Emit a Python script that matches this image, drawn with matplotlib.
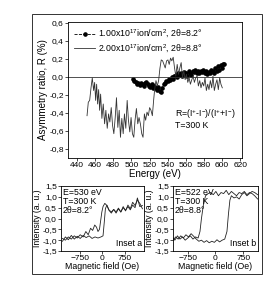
import numpy as np
import matplotlib.pyplot as plt
from matplotlib.patches import Rectangle
from matplotlib.ticker import FuncFormatter, MultipleLocator

plt.rcParams['font.family'] = ['Liberation Sans', 'DejaVu Sans']
plt.rcParams['mathtext.fontset'] = 'custom'
plt.rcParams['mathtext.rm'] = 'Liberation Sans'
plt.rcParams['mathtext.it'] = 'Liberation Sans:italic'
plt.rcParams['font.size'] = 6

# main panel: asymmetry ratio vs photon energy
e_dose1 = [501.8, 503.3, 504.8, 506.2, 507.7, 509.2, 510.6, 512.1, 513.5, 515.0,
           516.5, 517.9, 519.4, 520.9, 522.3, 523.8, 525.3, 526.7, 528.2, 529.6,
           531.1, 532.6, 534.0, 535.5, 537.0, 538.4, 539.9, 541.4, 542.8, 544.3,
           545.7, 547.2, 548.7, 550.1, 551.6, 553.1, 554.5, 556.0, 557.5, 558.9,
           560.4, 561.8, 563.3, 564.8, 566.2, 567.7, 569.2, 570.6, 572.1, 573.6,
           575.0, 576.5, 578.0, 579.4, 580.9, 582.3, 583.8, 585.3, 586.7, 588.2,
           589.7, 591.1, 592.6, 594.1, 595.5, 597.0, 598.4, 599.9, 601.4, 602.5]
r_dose1 = [-0.02, -0.04, -0.06, -0.08, -0.07, -0.09, -0.07, -0.08, -0.10, -0.07,
           -0.06, -0.08, -0.10, -0.11, -0.08, -0.12, -0.10, -0.12, -0.14, -0.11,
           -0.15, -0.17, -0.12, -0.08, -0.07, -0.04, -0.04, -0.02, -0.03, 0.00,
           -0.02, 0.01, 0.02, 0.00, 0.04, 0.02, 0.05, 0.01, 0.06, 0.03,
           0.05, 0.01, 0.07, 0.04, 0.02, 0.07, 0.06, 0.08, 0.05, 0.07,
           0.04, 0.07, 0.06, 0.08, 0.05, 0.07, 0.03, 0.06, 0.05, 0.08,
           0.07, 0.04, 0.10, 0.07, 0.12, 0.08, 0.13, 0.10, 0.14, 0.15]

e_dose2 = [451.0, 452.4, 453.9, 455.4, 456.8, 458.3, 459.4, 460.5, 461.6, 462.7,
           463.8, 464.9, 466.0, 467.4, 468.9, 470.4, 471.8, 473.3, 474.8, 476.2,
           477.7, 479.2, 480.6, 482.1, 483.5, 485.0, 486.5, 487.9, 489.4, 490.9,
           492.3, 493.8, 495.3, 496.7, 498.2, 499.6, 501.1, 502.6, 504.0, 505.5,
           507.0, 508.4, 509.9, 511.4, 512.8, 514.3, 515.7, 517.2, 518.7, 520.1,
           521.6, 523.1, 524.5, 525.6, 527.1, 528.5, 530.0, 531.5, 532.9, 534.4,
           535.9, 537.3, 538.8, 540.3, 541.7, 543.2, 544.6, 546.1, 547.6, 549.0,
           550.5, 552.0, 553.4, 554.9, 556.4, 557.8, 559.3, 560.7, 562.2, 563.7,
           565.1, 566.6, 568.1, 569.5, 571.0, 572.5, 573.9, 575.4, 576.8, 578.3,
           579.8, 581.2, 582.7, 584.2, 585.6, 587.1, 588.6, 590.0, 591.5, 593.0,
           594.4, 595.9, 597.4, 598.8, 600.3]
r_dose2 = [-0.43, -0.28, -0.26, -0.12, -0.01, -0.15, -0.06, -0.26, -0.08, -0.30,
           -0.14, -0.37, -0.19, -0.46, -0.30, -0.52, -0.37, -0.57, -0.41, -0.50,
           -0.34, -0.54, -0.63, -0.45, -0.23, -0.56, -0.37, -0.67, -0.46, -0.63,
           -0.41, -0.57, -0.26, -0.48, -0.61, -0.45, -0.63, -0.67, -0.48, -0.35,
           -0.52, -0.45, -0.52, -0.63, -0.67, -0.41, -0.48, -0.39, -0.43, -0.34,
           -0.37, -0.43, -0.26, -0.14, -0.04, -0.10, -0.04, 0.10, 0.19, 0.18,
           0.14, 0.10, 0.18, 0.19, 0.14, 0.21, 0.18, 0.22, 0.10, 0.01,
           0.14, 0.03, 0.10, 0.16, -0.01, 0.07, -0.03, 0.03, -0.06, -0.01,
           -0.08, -0.03, 0.01, -0.06, -0.01, 0.01, -0.10, -0.04, -0.12, -0.06,
           -0.10, -0.01, -0.15, -0.08, -0.14, -0.04, -0.12, 0.01, -0.15, -0.08,
           -0.03, -0.14, -0.01, -0.08, -0.12]

# inset a: loop at E=530 eV
ha_up = [-1350, -1250, -1150, -1050, -950, -850, -750, -650, -550, -450, -350, -250,
         -150, -50, 20, 60, 100, 150, 220, 300, 380, 460, 540, 620, 700, 780, 860,
         940, 1020, 1100, 1180, 1260, 1350]
va_up = [-1.05, -0.85, -0.98, -0.78, -0.95, -0.82, -0.92, -0.78, -0.88, -0.80, -0.92, -0.85,
         -0.90, -0.85, -0.80, -0.20, 0.45, 0.62, 0.40, 0.30, 0.42, 0.25, 0.45, 0.30, 0.50, 0.38,
         0.55, 0.40, 0.62, 0.50, 0.95, 0.55, 0.60]
ha_dn = [1350, 1260, 1180, 1100, 1020, 940, 860, 780, 700, 620, 540, 460, 380, 300, 220,
         150, 80, 20, -20, -60, -100, -150, -200, -260, -330, -400, -480, -560, -650, -750,
         -850, -950, -1050, -1150, -1250, -1350]
va_dn = [0.45, 0.70, 0.85, 0.60, 0.75, 0.45, 0.62, 0.35, 0.55, 0.30, 0.48, 0.30, 0.42, 0.25,
         0.38, 0.60, 0.70, 0.55, 0.30, -0.10, -0.50, -0.60, -0.40, -0.30, -0.55, -0.45, -0.75,
         -0.60, -0.85, -0.75, -0.90, -0.80, -0.95, -0.85, -1.00, -0.92]

# inset b: loop at E=522 eV
hb_up = [-1140, -1080, -1010, -940, -870, -800, -730, -660, -590, -520, -450, -380, -310,
         -240, -170, -100, -30, 40, 110, 180, 250, 310, 350, 390, 430, 500, 570, 640, 710,
         780, 850, 920, 990, 1060, 1140]
vb_up = [-1.00, -0.85, -0.95, -0.80, -0.90, -0.75, -0.85, -0.70, -0.82, -0.95, -1.05, -1.00,
         -1.10, -1.02, -1.12, -1.05, -1.10, -0.98, -1.08, -1.00, -0.95, -0.60, 0.20, 0.85, 1.05,
         0.95, 1.00, 0.90, 1.10, 1.20, 1.05, 1.15, 1.25, 1.20, 1.10]
hb_dn = [1140, 1060, 990, 920, 850, 780, 710, 640, 570, 500, 430, 360, 290, 220, 150, 80,
         10, -60, -130, -200, -270, -330, -380, -420, -470, -540, -610, -680, -750, -820,
         -890, -960, -1030, -1100, -1140]
vb_dn = [0.90, 1.05, 1.15, 1.20, 1.10, 1.25, 1.15, 1.20, 1.05, 1.15, 1.25, 1.10, 1.30, 1.15,
         1.20, 1.05, 1.25, 1.10, 1.20, 1.15, 1.05, 0.60, 0.00, -0.60, -0.90, -0.85, -0.95,
         -0.80, -0.90, -1.00, -0.85, -0.95, -0.80, -1.00, -0.90]

comma = FuncFormatter(lambda v, p: f"{v:.1f}".replace('.', ','))


def style(ax):
    for s in ax.spines.values():
        s.set_linewidth(0.6)
    ax.tick_params(direction='out', length=2, width=0.5, pad=1, labelsize=6)


fig = plt.figure(figsize=(2.77, 3.06), dpi=100)
fig.patches.append(Rectangle((0.1155, 0.1046), 0.830, 0.8497, transform=fig.transFigure,
                             fill=False, edgecolor='#333333', linewidth=0.7))

ax = fig.add_axes([0.2455, 0.4837, 0.628, 0.444])
ax.plot(e_dose1, r_dose1, '--', color='black', linewidth=0.6, marker='o', markersize=2.3,
        label='1.00x10$^{17}$ion/cm$^{2}$, 2θ=8.2°')
ax.plot(e_dose2, r_dose2, '-', color='#333333', linewidth=0.6,
        label='2.00x10$^{17}$ion/cm$^{2}$, 2θ=8.8°')
ax.axhline(0, color='#333333', linewidth=0.6)
ax.set_xlim(430, 622)
ax.set_ylim(-0.9, 0.61)
ax.xaxis.set_major_locator(MultipleLocator(20))
ax.yaxis.set_major_locator(MultipleLocator(0.2))
ax.yaxis.set_major_formatter(comma)
ax.set_xlabel('Energy (eV)', labelpad=0, fontsize=7)
ax.set_ylabel('Asymmetry ratio, R (%)', labelpad=1, fontsize=7)
style(ax)
ax.legend(loc='upper left', bbox_to_anchor=(0.0, 1.0), frameon=False, fontsize=6.3,
          handlelength=2.4, handletextpad=0.3, borderaxespad=0.3, labelspacing=0.25)
ax.text(0.615, 0.29, 'R=(I$^{+}$-I$^{-}$)/(I$^{+}$+I$^{-}$)\nT=300 K', transform=ax.transAxes,
        fontsize=6.3, va='center', ha='left', linespacing=1.0)

axa = fig.add_axes([0.220, 0.1797, 0.2996, 0.2124])
axa.plot(ha_up, va_up, color='#222222', linewidth=0.6)
axa.plot(ha_dn, va_dn, color='#222222', linewidth=0.6)
axa.set_xlim(-1400, 1400)
axa.set_ylim(-1.5, 1.5)
axa.set_xticks([-750, 0, 750])
axa.yaxis.set_major_locator(MultipleLocator(0.5))
axa.yaxis.set_major_formatter(comma)
axa.set_xlabel('Magnetic field (Oe)', labelpad=0, fontsize=6.3)
axa.set_ylabel('Intensity (a. u.)', labelpad=0, fontsize=6.3)
style(axa)
axa.text(0.02, 0.97, 'E=530 eV\nT=300 K\n2θ=8.2°', transform=axa.transAxes, va='top',
         ha='left', fontsize=6.3, linespacing=1.0)
axa.text(0.98, 0.04, 'Inset a', transform=axa.transAxes, va='bottom', ha='right', fontsize=6.3)

axb = fig.add_axes([0.6245, 0.1797, 0.3069, 0.2124])
axb.plot(hb_up, vb_up, color='#222222', linewidth=0.6)
axb.plot(hb_dn, vb_dn, color='#222222', linewidth=0.6)
axb.set_xlim(-1150, 1150)
axb.set_ylim(-1.5, 1.5)
axb.set_xticks([-750, 0, 750])
axb.yaxis.set_major_locator(MultipleLocator(0.5))
axb.yaxis.set_major_formatter(comma)
axb.set_xlabel('Magnetic field (Oe)', labelpad=0, fontsize=6.3)
axb.set_ylabel('Intensity (a. u.)', labelpad=0, fontsize=6.3)
style(axb)
axb.text(0.02, 0.97, 'E=522 eV\nT=300 K\n2θ=8.8°', transform=axb.transAxes, va='top',
         ha='left', fontsize=6.3, linespacing=1.0)
axb.text(0.98, 0.04, 'Inset b', transform=axb.transAxes, va='bottom', ha='right', fontsize=6.3)

fig.savefig('out.png', dpi=100)
